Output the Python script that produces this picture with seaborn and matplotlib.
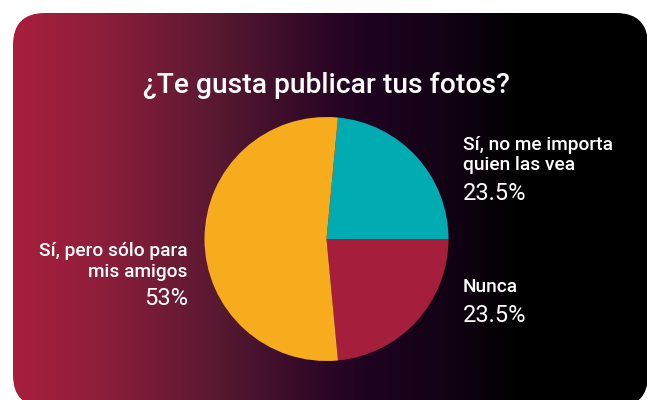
import numpy as np
import matplotlib
matplotlib.use("Agg")
import matplotlib.pyplot as plt
from matplotlib.colors import LinearSegmentedColormap
from matplotlib.patches import FancyBboxPatch
import seaborn as sns

# Survey data
categories = ["Sí, no me importa\nquien las vea", "Nunca", "Sí, pero sólo para\nmis amigos"]
shares = [23.5, 23.5, 53.0]
pct_labels = ["23.5%", "23.5%", "53%"]
title = "¿Te gusta publicar tus fotos?"

sns.set_theme(style="white")
plt.rcParams["font.family"] = ["Roboto", "DejaVu Sans"]

palette = sns.color_palette(["#00abb2", "#a51e3b", "#f7ac1d"])

W, H = 647, 400
fig = plt.figure(figsize=(W / 100, H / 100), dpi=100, facecolor="white")

# Background card with horizontal gradient (pixel coordinates, y down)
bg = fig.add_axes([0, 0, 1, 1])
bg.set_xlim(0, W)
bg.set_ylim(H, 0)
bg.axis("off")

x0, y0, x1, y1 = 13, 13, 648, 407
card_cmap = LinearSegmentedColormap.from_list(
    "card",
    [(0.0, "#a81f3d"), (0.15, "#8a1e3a"), (0.33, "#561831"),
     (0.50, "#2a0624"), (0.56, "#1e0320"), (0.70, "#100212"), (0.80, "#000000"), (1.0, "#000000")],
)
grad = np.linspace(0, 1, 512).reshape(1, -1)
img = bg.imshow(grad, cmap=card_cmap, extent=(x0, x1, y1, y0), aspect="auto", zorder=1)
card = FancyBboxPatch((x0 + 32, y0 + 32), (x1 - x0) - 64, (y1 - y0) - 64,
                      boxstyle="round,pad=32", transform=bg.transData,
                      facecolor="none", edgecolor="none")
bg.add_patch(card)
img.set_clip_path(card)

bg.text(326, 93, title, color="white", fontsize=20.3, fontweight="medium",
        ha="center", va="baseline", zorder=3)

# Pie chart: first slice ends at the 3 o'clock position, drawn clockwise
cx, cy, r = 326.5, 239, 122
pie_ax = fig.add_axes([(cx - r) / W, (H - cy - r) / H, 2 * r / W, 2 * r / H])
pie_ax.pie(shares, colors=palette, startangle=shares[0] * 3.6,
           counterclock=False, radius=1, wedgeprops=dict(linewidth=0))
pie_ax.set_xlim(-1, 1)
pie_ax.set_ylim(-1, 1)
pie_ax.set_aspect("equal")
pie_ax.axis("off")
pie_ax.patch.set_alpha(0)

# Labels
label_kw = dict(color="white", fontsize=13.8, fontweight="medium", va="baseline", zorder=3)
pct_kw = dict(color="white", fontsize=17, fontweight="normal", va="baseline", zorder=3)

bg.text(463, 150, categories[0].split("\n")[0], ha="left", **label_kw)
bg.text(463, 170, categories[0].split("\n")[1], ha="left", **label_kw)
bg.text(463, 200, pct_labels[0], ha="left", **pct_kw)

bg.text(463, 292, categories[1], ha="left", **label_kw)
bg.text(463, 322, pct_labels[1], ha="left", **pct_kw)

bg.text(188, 256, categories[2].split("\n")[0], ha="right", **label_kw)
bg.text(188, 277, categories[2].split("\n")[1], ha="right", **label_kw)
bg.text(188, 305, pct_labels[2], ha="right", **pct_kw)

fig.savefig("out.png", dpi=100, facecolor="white")
